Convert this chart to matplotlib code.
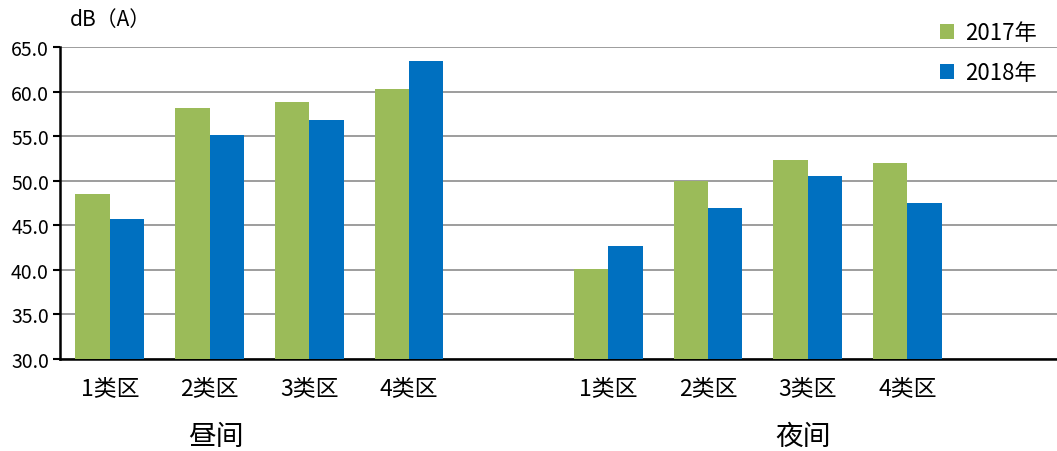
import matplotlib
matplotlib.use("Agg")
import matplotlib.pyplot as plt
import numpy as np

plt.rcParams['font.family'] = ['Noto Sans CJK SC', 'DejaVu Sans']

categories = ['1类区', '2类区', '3类区', '4类区']
groups = ['昼间', '夜间']
day_2017 = [48.5, 58.2, 58.8, 60.3]
day_2018 = [45.7, 55.1, 56.8, 63.4]
night_2017 = [40.1, 50.0, 52.3, 52.0]
night_2018 = [42.7, 46.9, 50.5, 47.5]
yticks = [30, 35, 40, 45, 50, 55, 60, 65]

green = '#9BBB59'
blue = '#0070C0'

fig = plt.figure(figsize=(10.57, 4.52), dpi=100)
ax = fig.add_axes([0.0568, 0.2035, 0.9432, 0.6903])

# day in slots 0-3, night in slots 5-8
x = np.array([0, 1, 2, 3, 5, 6, 7, 8])
v2017 = day_2017 + night_2017
v2018 = day_2018 + night_2018
w = 0.345
ax.bar(x - w / 2, np.array(v2017) - 30, w, bottom=30, color=green, label='2017年', zorder=3)
ax.bar(x + w / 2, np.array(v2018) - 30, w, bottom=30, color=blue, label='2018年', zorder=3)

ax.set_xlim(-0.5, 9.5)
ax.set_ylim(30, 65)
ax.set_yticks(yticks)
ax.set_yticklabels([f'{t:.1f}' for t in yticks], fontsize=14)
ax.yaxis.grid(True, color='#8C8C8C', linewidth=1.2, zorder=0)
ax.set_xticks(x)
ax.set_xticklabels(categories * 2, fontsize=16.5)
ax.tick_params(axis='x', length=0, pad=12)
ax.tick_params(axis='y', length=5, width=1.5, color='black', pad=3)
for s in ['top', 'right']:
    ax.spines[s].set_visible(False)
ax.spines['left'].set_linewidth(1.8)
ax.spines['bottom'].set_linewidth(1.8)

ax.text(1.06, 21.4, groups[0], ha='center', va='center', fontsize=20)
ax.text(6.95, 21.4, groups[1], ha='center', va='center', fontsize=20)
fig.text(0.066, 0.955, 'dB（A）', ha='left', va='center', fontsize=15)

fig.legend(loc='upper right', bbox_to_anchor=(1.0, 0.995), frameon=False,
           fontsize=16, handlelength=0.65, handleheight=0.65, handletextpad=0.5,
           labelspacing=0.75)

fig.savefig('out.png', dpi=100)
